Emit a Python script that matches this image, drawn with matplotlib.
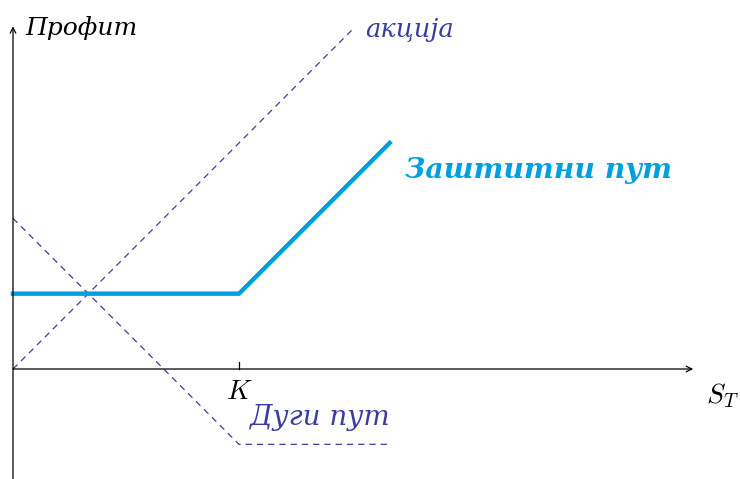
import numpy as np
import matplotlib.pyplot as plt

plt.rcParams['mathtext.fontset'] = 'cm'

# payoff diagram values (strike K = 3, premium = 1)
K = 3
stock_x = [0, 4.5]
stock_y = [0, 4.5]
put_x = [0, 3, 5]
put_y = [2, -1, -1]
prot_x = [0, 3, 5]
prot_y = [1, 1, 3]

dash_col = '#3c3ca0'
cyan = '#00a0e0'

fig = plt.figure(figsize=(7.4, 4.79), dpi=100)
ax = fig.add_axes([0, 0, 1, 1])
ax.set_xlim(-0.1726, 9.651)
ax.set_ylim(-1.460, 4.898)
ax.axis('off')

# axes with arrows
arr = dict(arrowstyle='->', color='black', lw=0.9, shrinkA=0, shrinkB=0)
ax.annotate('', xy=(9.03, 0), xytext=(0, 0), arrowprops=arr)
ax.annotate('', xy=(0, 4.55), xytext=(0, -1.46), arrowprops=arr)
ax.plot([K, K], [0, 0.09], color='black', lw=0.9)

ax.plot(stock_x, stock_y, color=dash_col, lw=0.9, dashes=(5, 4))
ax.plot(put_x, put_y, color=dash_col, lw=0.9, dashes=(5, 4))
ax.plot(prot_x, prot_y, color=cyan, lw=3.2, solid_joinstyle='miter')

serif = ['DejaVu Serif']
ax.text(0.16, 4.52, 'Профит', fontsize=18, style='italic', family=serif,
        ha='left', va='center')
ax.text(4.68, 4.51, 'акција', fontsize=18.5, style='italic', family=serif,
        color=dash_col, ha='left', va='center')
ax.text(5.21, 2.64, 'Заштитни пут', fontsize=20.3, style='italic',
        weight='bold', family=serif, color=cyan, ha='left', va='center')
ax.text(3.14, -0.64, 'Дуги пут', fontsize=20, style='italic', family=serif,
        color=dash_col, ha='left', va='center')
ax.text(K, -0.29, '$K$', fontsize=20, ha='center', va='center')
ax.text(9.42, -0.35, '$S_T$', fontsize=20, ha='center', va='center')

fig.savefig('out.png', dpi=100)
